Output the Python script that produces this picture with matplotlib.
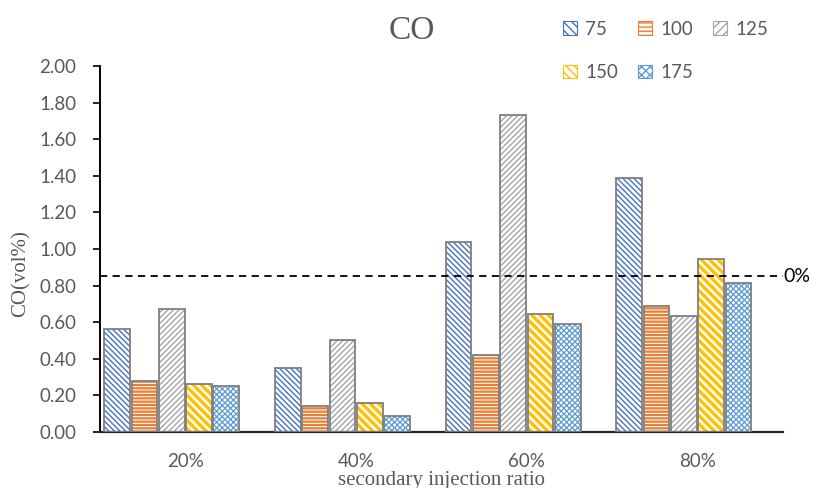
import numpy as np
import matplotlib
matplotlib.use("Agg")
import matplotlib.pyplot as plt
from matplotlib.patches import Patch

# data
categories = ["20%", "40%", "60%", "80%"]
series_names = ["75", "100", "125", "150", "175"]
co_75 = [0.56, 0.35, 1.04, 1.39]
co_100 = [0.28, 0.14, 0.42, 0.69]
co_125 = [0.67, 0.50, 1.73, 0.635]
co_150 = [0.26, 0.16, 0.645, 0.945]
co_175 = [0.25, 0.09, 0.59, 0.815]
threshold = 0.852
yticks = [0.0, 0.2, 0.4, 0.6, 0.8, 1.0, 1.2, 1.4, 1.6, 1.8, 2.0]

values = [co_75, co_100, co_125, co_150, co_175]
hatch_colors = ["#4472c4", "#ed7d31", "#a5a5a5", "#ffc000", "#5b9bd5"]
hatches = ["\\" * 6, "-" * 5, "/" * 6, "\\" * 4, "x" * 6]
hatch_lw = [1.0, 1.6, 1.0, 2.4, 0.9]
edge = "#7f7f7f"
grey_text = "#595959"

fig = plt.figure(figsize=(8.16, 4.88), dpi=100)
ax = fig.add_axes([0.1225, 0.1148, 0.837, 0.75])

x = np.arange(len(categories))
# Excel layout: six slots per category, the last one (dashed line series) is empty
width = 0.16
handles = []
for i, (name, vals) in enumerate(zip(series_names, values)):
    pos = x + (i - 2.5) * width
    with plt.rc_context({"hatch.linewidth": hatch_lw[i]}):
        ax.bar(pos, vals, width * 0.94, color="white", edgecolor=hatch_colors[i],
               hatch=hatches[i], linewidth=0, zorder=2)
        handles.append(Patch(facecolor="white", edgecolor=hatch_colors[i],
                             hatch=hatches[i][:4], linewidth=0.8, label=name))
    ax.bar(pos, vals, width * 0.94, color="none", edgecolor=edge,
           linewidth=1.3, zorder=3)

ax.axhline(threshold, color="black", linestyle=(0, (4, 3)), linewidth=1.3, zorder=4)
ax.text(1.0, threshold, "0%", transform=ax.get_yaxis_transform(),
        ha="left", va="center", fontsize=14, family="Lato")

ax.set_xlim(-0.5, 3.5)
ax.set_ylim(0, 2.0)
ax.set_yticks(yticks)
ax.set_yticklabels([f"{v:.2f}" for v in yticks], fontsize=13.5, color=grey_text, family="Lato")
ax.set_xticks(x)
ax.set_xticklabels(categories, fontsize=13.5, color=grey_text, family="Lato")
ax.tick_params(axis="x", length=0, pad=15)
ax.tick_params(axis="y", length=5, width=1.2, direction="out", pad=12)

for s in ["top", "right"]:
    ax.spines[s].set_visible(False)
ax.spines["left"].set_linewidth(1.4)
ax.spines["bottom"].set_linewidth(1.6)
ax.spines["bottom"].set_color("#262626")

ax.set_ylabel("CO(vol%)", fontsize=15, color=grey_text, family="Liberation Serif")
ax.yaxis.set_label_coords(-0.101, 0.434)
ax.set_xlabel("secondary injection ratio", fontsize=15, color=grey_text,
              family="Liberation Serif", labelpad=1)
fig.text(0.505, 0.938, "CO", fontsize=24, color=grey_text, family="Liberation Serif",
         ha="center", va="center")

# reorder so legend fills row by row
order = [0, 3, 1, 4, 2]
ax.legend([handles[k] for k in order], [series_names[k] for k in order],
          ncol=3, loc="upper left", bbox_to_anchor=(0.669, 0.992), bbox_transform=fig.transFigure,
          frameon=False, labelcolor=grey_text, handlelength=0.75, handleheight=0.75,
          handletextpad=0.45, columnspacing=1.05, labelspacing=1.4,
          prop={"family": "Lato", "size": 13.5})

fig.savefig("out.png", dpi=100)
